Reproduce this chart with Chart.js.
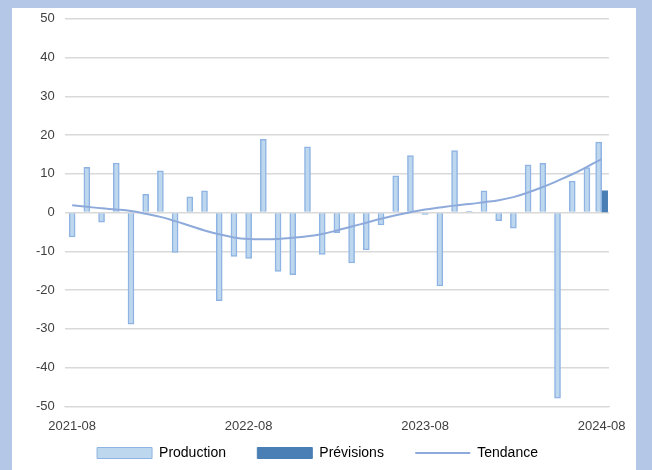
<!DOCTYPE html>
<html>
<head>
<meta charset="utf-8">
<script src="https://cdn.jsdelivr.net/npm/chart.js@4"></script>
<style>
  body { margin: 0; background: #b4c7e7; width: 652px; height: 470px; overflow: hidden; }
  #wrap { position: absolute; left: 12px; top: 8px; width: 624px; height: 462px; background: #fff; overflow: hidden; }
  #c { position: absolute; left: 0; top: -7px; }
</style>
</head>
<body>
<div id="wrap"><canvas id="c" width="624" height="469"></canvas></div>
<script>
// months 2021-08 .. 2024-08
const mois = [];
for (let y = 2021, m = 8; y < 2024 || (y === 2024 && m <= 8); m++) {
  if (m > 12) { m = 1; y++; }
  mois.push(y + "-" + String(m).padStart(2, "0"));
}

const production = [-6.3, 11.7, -2.5, 12.8, -28.8, 4.7, 10.8, -10.3, 4.1, 5.6, -22.7, -11.3,
  -11.8, 18.9, -15.2, -16.0, 17.0, -10.8, -5.2, -13.0, -9.6, -3.2, 9.5, 14.7,
  -0.5, -18.9, 16.0, 0.3, 5.6, -2.1, -4.0, 12.3, 12.7, -47.9, 8.1, 11.6, 18.2];
const previsions = [null, null, null, null, null, null, null, null, null, null, null, null,
  null, null, null, null, null, null, null, null, null, null, null, null,
  null, null, null, null, null, null, null, null, null, null, null, null, 5.6];
const tendance = [1.9, 1.5, 1.1, 0.8, 0.4, -0.3, -1.1, -2.2, -3.4, -4.6, -5.6, -6.4,
  -6.8, -6.9, -6.8, -6.5, -6.1, -5.5, -4.6, -3.6, -2.6, -1.6, -0.7, 0.1,
  0.8, 1.3, 1.8, 2.2, 2.7, 3.2, 4.0, 5.2, 6.6, 8.2, 9.9, 11.8, 13.8];

new Chart(document.getElementById("c"), {
  type: 'bar',
  data: {
    labels: mois,
    datasets: [
      { label: 'Production', data: production, backgroundColor: '#bdd7ee', borderColor: '#8fb4e3',
        borderWidth: 1.5, barThickness: 6, skipNull: true, order: 2 },
      { label: 'Prévisions', data: previsions, backgroundColor: '#4a7fb5', borderColor: '#4a7fb5',
        borderWidth: 0, barThickness: 6, skipNull: true, order: 2 },
      { type: 'line', label: 'Tendance', data: tendance, borderColor: '#8eaadb', borderWidth: 2,
        pointRadius: 0, tension: 0.4, fill: false, order: 1 }
    ]
  },
  options: {
    responsive: false,
    animation: false,
    layout: { padding: { left: 14, right: 27, top: 0, bottom: 0 } },
    plugins: {
      tooltip: { enabled: false },
      legend: {
        position: 'bottom',
        labels: {
          usePointStyle: true, pointStyleWidth: 55, boxHeight: 11, padding: 8,
          font: { family: 'Liberation Sans', size: 14 }, color: '#404040',
          generateLabels: function(chart) {
            return chart.data.datasets.map((d, i) => ({
              text: i < 2 ? d.label + '      ' : d.label,
              fillStyle: d.type === 'line' ? d.borderColor : d.backgroundColor,
              strokeStyle: d.borderColor,
              lineWidth: d.type === 'line' ? 2 : 1,
              pointStyle: d.type === 'line' ? 'line' : 'rect',
              datasetIndex: i
            }));
          }
        }
      }
    },
    scales: {
      x: {
        grid: { display: false },
        border: { color: '#d9d9d9' },
        ticks: {
          autoSkip: false, maxRotation: 0, color: '#404040', padding: 4,
          font: { family: 'Liberation Sans', size: 13 },
          callback: function(v, i) { return mois[i].endsWith('-08') ? mois[i] : ''; }
        }
      },
      y: {
        min: -50, max: 50,
        ticks: { stepSize: 10, color: '#404040', padding: 10, font: { family: 'Liberation Sans', size: 13 } },
        grid: { color: '#d9d9d9', lineWidth: 1.5, drawTicks: false },
        border: { display: false }
      }
    }
  }
});
</script>
</body>
</html>
